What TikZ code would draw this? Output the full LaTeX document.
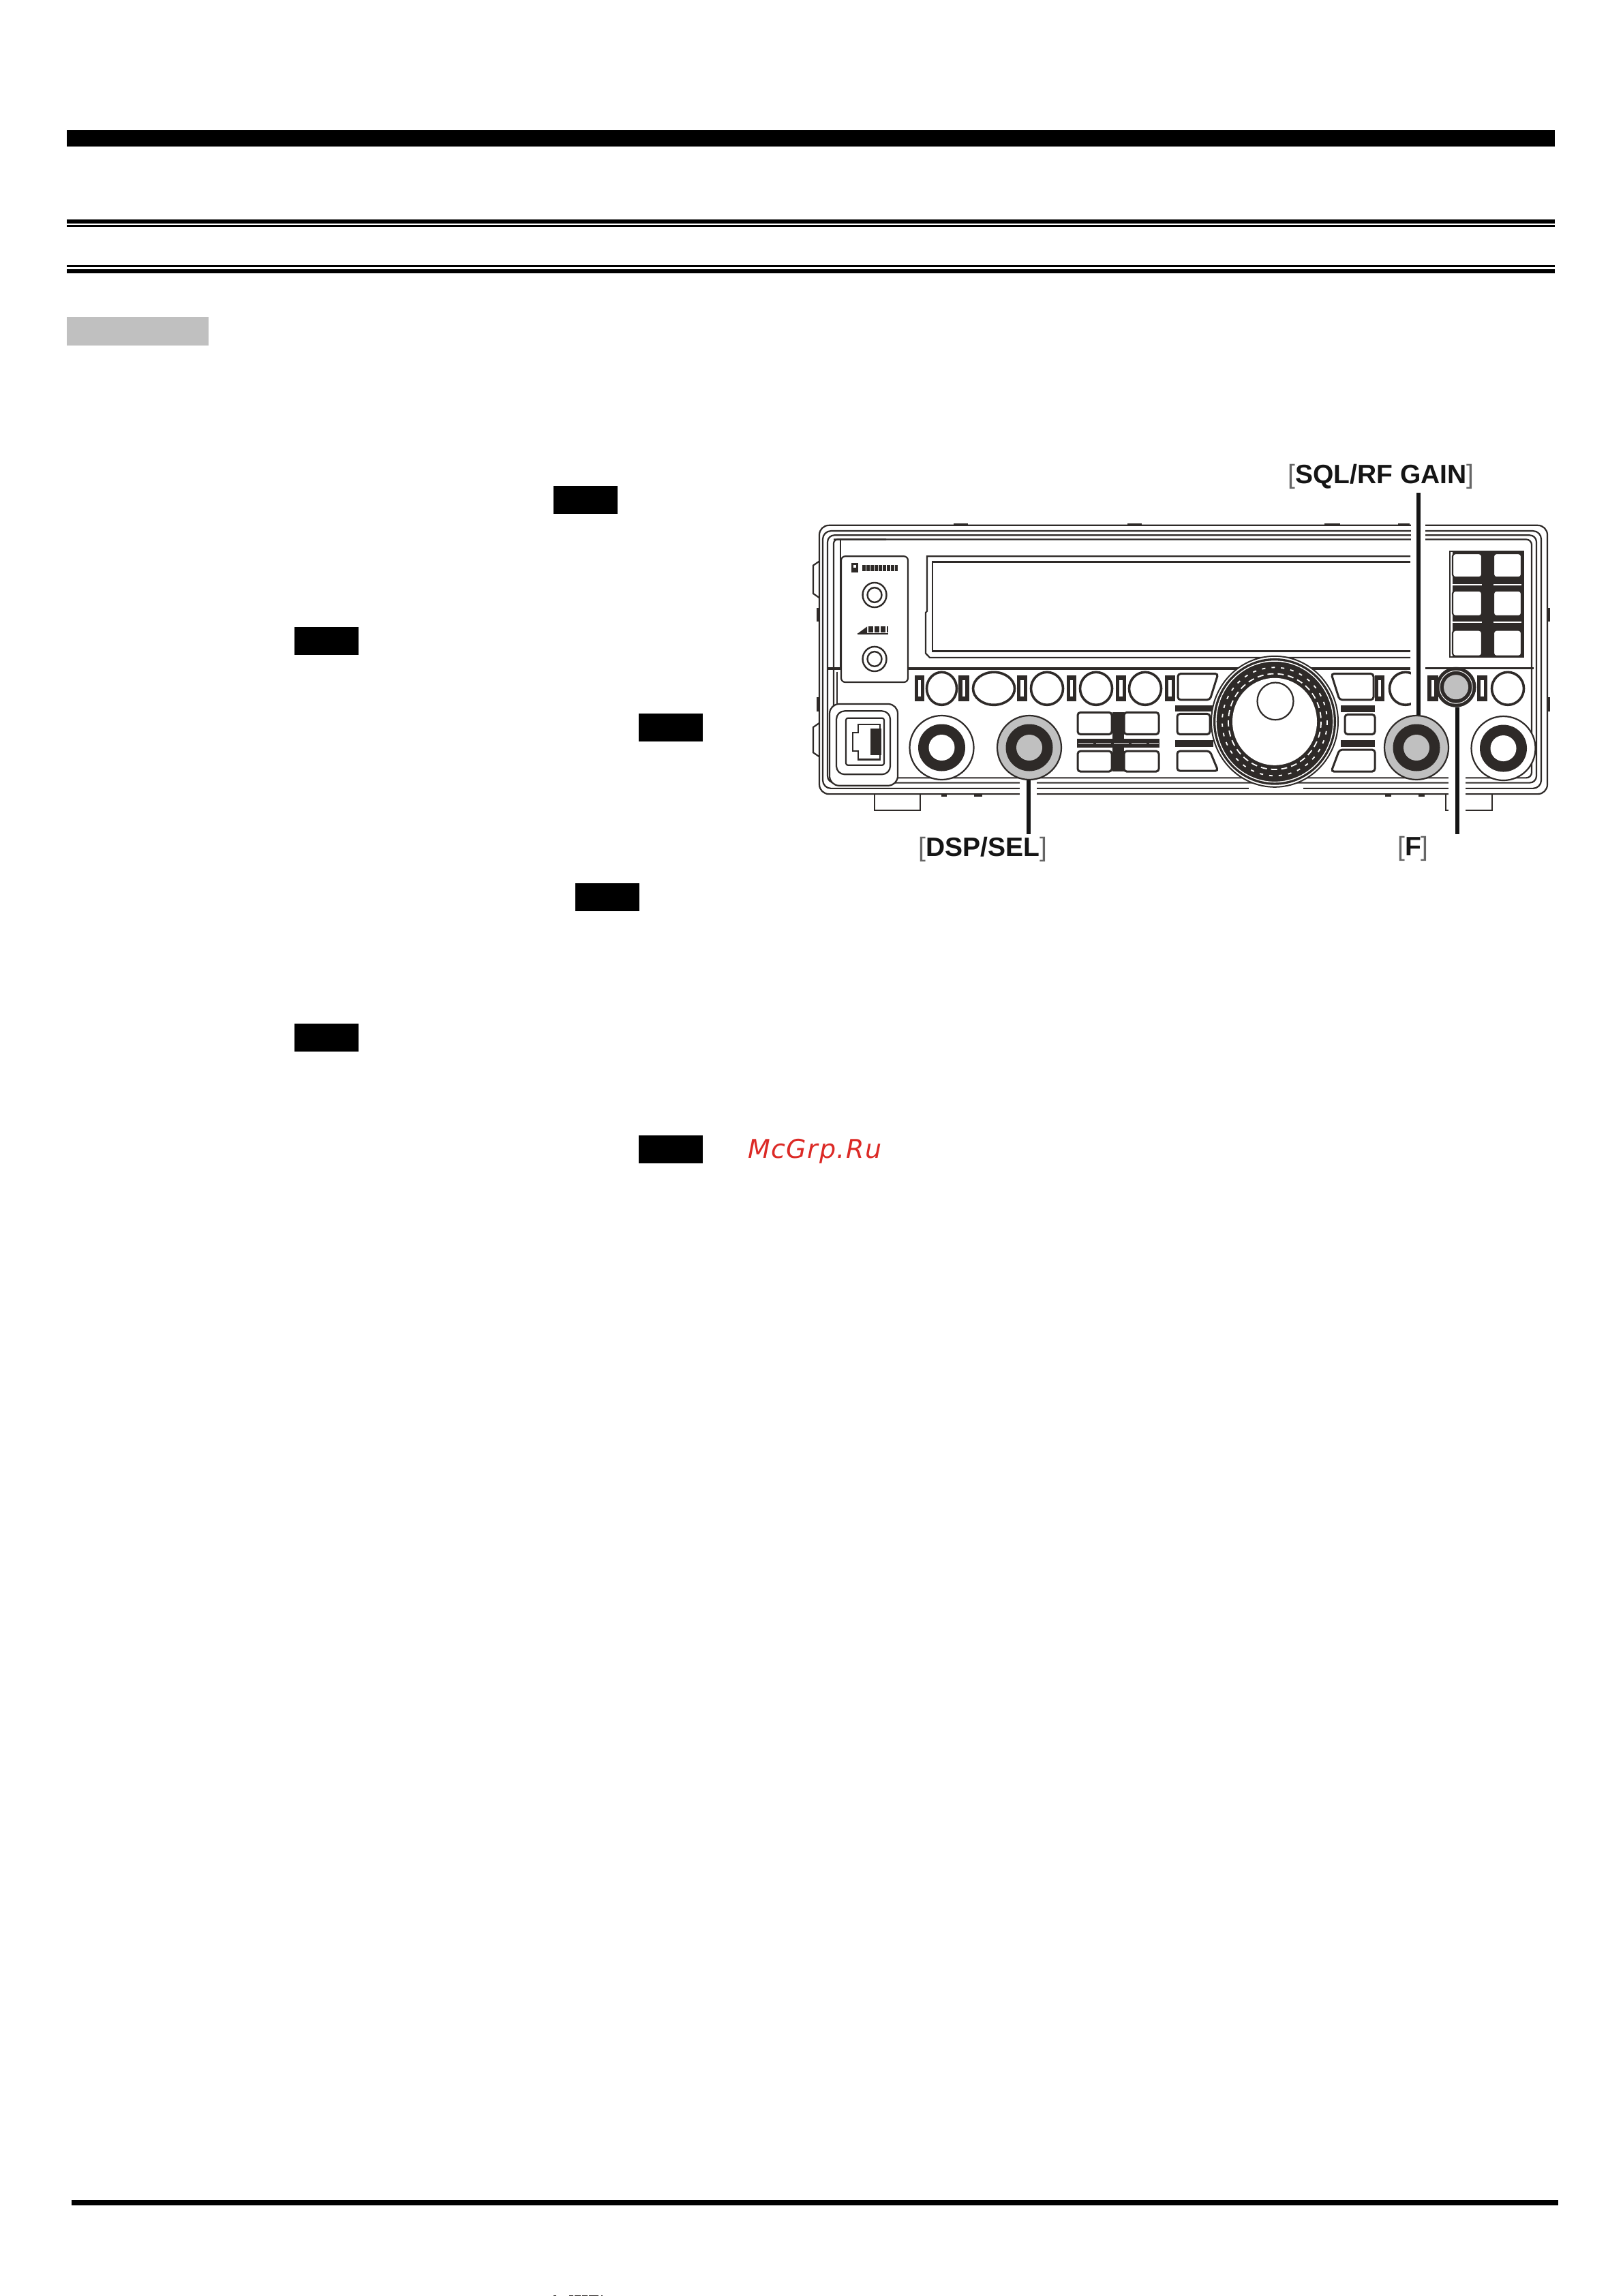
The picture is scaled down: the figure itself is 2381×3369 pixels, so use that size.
\documentclass[tikz,border=0pt]{standalone}
\usepackage{fontspec}
\setmainfont{Liberation Sans}
\newfontfamily\wmfont{DejaVu Sans}
\usetikzlibrary{shapes.geometric}
\definecolor{rdark}{HTML}{2E2A28}
\definecolor{rgray}{HTML}{C0C0C0}
\definecolor{wmred}{HTML}{DC2A26}
\definecolor{lblk}{HTML}{151515}
\definecolor{brk}{HTML}{666666}
\newcommand{\lbl}[1]{{\fontsize{39}{43}\selectfont\textcolor{brk}{[}\textbf{#1}\textcolor{brk}{]}}}
\newcommand{\sbar}[2]{%
  \fill[rdark] (#1,981) rectangle ++(#2,37);
  \fill[white] ({#1+0.35*#2},988) rectangle ++({0.3*#2},23);
}
\newcommand{\ovbtn}[4]{\node[ovalbtn,minimum width=#3pt,minimum height=#4pt] at (#1,#2) {};}
\tikzset{
  x=1pt,y=-1pt,
  rline/.style={draw=rdark,line width=2.2pt},
  band/.style={fill=black},
  tag/.style={fill=black},
  ovalbtn/.style={ellipse,draw=rdark,line width=3.6pt,fill=white,inner sep=0pt},
  squarebtn/.style={draw=rdark,line width=3pt,fill=white,rounded corners=4pt},
  halo/.style={draw=white,line cap=butt},
  callout/.style={draw=lblk,line width=6pt,line cap=butt},
  knobouter/.style={circle,draw=rdark,line width=2.2pt,inner sep=0pt,minimum size=94pt},
  knobdark/.style={circle,fill=rdark,inner sep=0pt,minimum size=69pt},
  lbltxt/.style={inner sep=0pt,text=lblk},
}
\begin{document}
\begin{tikzpicture}
\useasboundingbox (0,0) rectangle (2381,3369);
\fill[white] (0,0) rectangle (2381,3369);
% page rules
\fill[band] (98,191) rectangle (2281,215);
\fill[band] (98,322) rectangle (2281,328);
\fill[band] (98,330) rectangle (2281,333);
\fill[band] (98,389) rectangle (2281,392);
\fill[band] (98,395) rectangle (2281,401);
\fill[band] (105,3228) rectangle (2286,3236);
\fill[fill=rgray] (98,465) rectangle (306,507);
% black tags
\foreach \tx/\ty in {812/713,432/920,937/1047,844/1296,432/1502,937/1666}
  \fill[tag] (\tx,\ty) rectangle ++(94,41);
\begin{scope}[y=-1.0322pt,yshift=21.9pt]
% side and top bumps
\draw[rline] (1202,819) -- (1193,825) -- (1193,865) -- (1202,871);
\draw[rline] (1202,1049) -- (1193,1055) -- (1193,1091) -- (1202,1097);
\foreach \ya/\yb in {885/905,1012/1033} {
  \fill[rdark] (1198,\ya) rectangle (1202,\yb);
  \fill[rdark] (2270,\ya) rectangle (2274,\yb);
}
\foreach \xa/\xb in {1399/1420,1654/1675,1943/1966,2051/2068}
  \fill[rdark] (\xa,765) rectangle (\xb,769);
\foreach \xa/\xb in {1381/1389,1429/1441,2032/2041,2081/2090}
  \fill[rdark] (\xa,1150) rectangle (\xb,1154);
% feet
\draw[rline] (1283,1150) -- (1283,1173) -- (1350,1173) -- (1350,1150);
\draw[rline] (2121,1150) -- (2121,1173) -- (2189,1173) -- (2189,1150);
% body nested outline
\draw[rline,rounded corners=14pt,fill=white] (1202,768) rectangle (2270,1150);
\draw[rline,rounded corners=12pt] (1207,776) rectangle (2261,1142);
\draw[rline,rounded corners=10pt] (1214,782) rectangle (2254,1134);
\draw[rline,rounded corners=8pt] (1223,788) -- (2247,788) -- (2247,1127) -- (1223,1127);
\draw[rline,rounded corners=6pt] (1223,1127) -- (1223,788) -- (1300,788);
\draw[rline] (1233,788) -- (1233,972);
\draw[rline] (1228,976) -- (1228,1030);
% band below display
\fill[rdark] (1215,970) rectangle (2069,974);
\fill[rdark] (2090,970) rectangle (2250,972.5);
% display
\draw[rline] (2069,812) -- (1360,812) -- (1360,890) -- (1358,892) -- (1358,950) -- (1364,956) -- (2069,956);
\draw[rline] (2069,820) -- (1368,820) -- (1368,947) -- (2069,947);
% logo panel
\draw[rline,fill=white,rounded corners=6pt] (1234,812) rectangle (1332,991);
\fill[rdark] (1249,821) rectangle (1259,835);
\fill[white] (1252,824) rectangle (1256,828);
\draw[rdark,line width=9pt,dash pattern=on 5pt off 1pt] (1265,828.5) -- (1317,828.5);
\fill[rdark] (1258,922) -- (1272,912) -- (1272,922) -- cycle;
\draw[rdark,line width=9pt,dash pattern=on 7pt off 2pt] (1274,916) -- (1303,916);
\fill[rdark] (1258,921) rectangle (1303,923);
\foreach \jy in {867,958} {
  \draw[rdark,line width=2.4pt,fill=white] (1283,\jy) circle (17.5);
  \draw[rdark,line width=2.4pt] (1283,\jy) circle (10.5);
}
% row of small bars and buttons
\sbar{1342}{14}\sbar{1406}{16}\sbar{1492}{15}\sbar{1565}{14}\sbar{1637}{15}\sbar{1709}{15}\sbar{2017}{14}\sbar{2094}{16}\sbar{2167}{15}
\ovbtn{1381.5}{1000}{44}{48}
\ovbtn{1458}{1000}{61}{48}
\ovbtn{1536}{1000}{47}{48}
\ovbtn{1608}{1000}{47}{48}
\ovbtn{1680}{1000}{47}{48}
\ovbtn{2062}{1000}{47}{48}
\ovbtn{2212}{1000}{47}{48}
% side buttons beside the dial
\draw[squarebtn] (1728,979) -- (1787,979) -- (1775,1016) -- (1728,1016) -- cycle;
\draw[squarebtn] (1953,979) -- (2015,979) -- (2015,1016) -- (1965,1016) -- cycle;
\fill[rdark] (1724,1024) rectangle (1785,1033);
\fill[rdark] (1967,1024) rectangle (2017,1034);
\draw[squarebtn] (1727,1036) rectangle (1775,1065);
\draw[squarebtn] (1973,1037) rectangle (2017,1065);
\fill[rdark] (1724,1073) rectangle (1780,1083);
\fill[rdark] (1967,1073) rectangle (2017,1083);
\draw[squarebtn] (1727,1089) -- (1775,1089) -- (1787,1117) -- (1727,1117) -- cycle;
\draw[squarebtn] (1965,1087) -- (2017,1087) -- (2017,1118) -- (1953,1118) -- cycle;
% four button block
\fill[rdark] (1632,1034) rectangle (1649,1118);
\fill[rdark] (1580,1071) rectangle (1701,1084);
\draw[white,line width=1.6pt,dash pattern=on 22pt off 4pt] (1582,1077.5) -- (1700,1077.5);
\draw[squarebtn] (1581,1034) rectangle (1631,1065);
\draw[squarebtn] (1649,1034) rectangle (1700,1065);
\draw[squarebtn] (1581,1089) rectangle (1631,1118);
\draw[squarebtn] (1649,1089) rectangle (1700,1118);
% six button block
\fill[rdark] (2126,804) rectangle (2236,956);
\fill[white] (2128,806) rectangle (2131,954);
\foreach \ya/\yb in {808/842,861/897,917/954} {
  \draw[rline,fill=white,rounded corners=4pt] (2131,\ya) rectangle (2174,\yb);
  \draw[rline,fill=white,rounded corners=4pt] (2191,\ya) rectangle (2232,\yb);
}
\foreach \sy in {852,906} {
  \draw[white,line width=2pt] (2131,\sy) -- (2174,\sy);
  \draw[white,line width=2pt] (2191,\sy) -- (2232,\sy);
}
% network jack
\draw[rline,fill=white,rounded corners=14pt] (1217,1022) rectangle (1317,1138);
\draw[rline,rounded corners=12pt] (1227,1032) rectangle (1306,1122);
\draw[rline,rounded corners=3pt] (1241,1042) rectangle (1297,1109);
\draw[rline] (1251,1063) -- (1259,1063) -- (1259,1051) -- (1291,1051) -- (1291,1101) -- (1259,1101) -- (1259,1089) -- (1251,1089) -- cycle;
\fill[rdark] (1277,1057) rectangle (1293,1095);
% gap in the inner lines under the dial
\fill[white] (1832,1136) rectangle (1912,1146);
% main dial
\draw[rdark,line width=2pt,fill=white] (1870,1047) circle (93);
\fill[rdark] (1870,1047) circle (90);
\draw[white,line width=1.4pt] (1870,1047) circle (86);
\draw[white,line width=1.8pt,dash pattern=on 5pt off 9pt] (1870,1047) circle (77);
\draw[white,line width=1.8pt,dash pattern=on 9pt off 6pt] (1870,1047) circle (68);
\fill[white] (1870,1047) circle (62);
\draw[rdark,line width=2.2pt] (1871,1018) circle (26.5);
% halos cutting the lines behind the callouts
\draw[halo,line width=21pt] (2080,758) -- (2080,1025);
\draw[halo,line width=25pt] (1508,1130) -- (1508,1158);
\draw[halo,line width=25pt] (2137.5,1122) -- (2137.5,1180);
% knobs
\node[knobouter,fill=white] (afknob) at (1381.5,1084) {};
\node[knobdark] (afring) at (1381.5,1084) {};
\node[circle,fill=white,inner sep=0pt,minimum size=38pt] (afcap) at (1381.5,1084) {};
\node[knobouter,fill=rgray] (dspknob) at (1510,1084) {};
\node[knobdark] (dspring) at (1510,1084) {};
\node[circle,fill=rgray,inner sep=0pt,minimum size=38pt] (dspcap) at (1510,1084) {};
\node[knobouter,fill=rgray] (sqlknob) at (2078,1084) {};
\node[knobdark] (sqlring) at (2078,1084) {};
\node[circle,fill=rgray,inner sep=0pt,minimum size=38pt] (sqlcap) at (2078,1084) {};
\node[knobouter,fill=white] (rightknob) at (2205.5,1085) {};
\node[knobdark] (rightring) at (2205.5,1085) {};
\node[circle,fill=white,inner sep=0pt,minimum size=38pt] (rightcap) at (2205.5,1085) {};
% F button
\node[circle,draw=rdark,line width=3pt,fill=rdark,inner sep=0pt,minimum size=56pt] (fknob) at (2136,998) {};
\node[circle,draw=white,line width=1pt,fill=rdark,inner sep=0pt,minimum size=48pt] (fring) at (2136,998) {};
\node[circle,fill=rgray,inner sep=0pt,minimum size=36pt] (fcap) at (2136,998) {};
% labels
\node[lbltxt,anchor=center] (dsplabel) at (1442,1229) {\lbl{DSP/SEL}};
\node[lbltxt,anchor=center] (sqllabel) at (2026,699) {\lbl{SQL/RF GAIN}};
\node[lbltxt,anchor=center] (flabel) at (2073,1227.5) {\lbl{F}};
% callouts
\coordinate (dsptip) at (1509,1207);
\coordinate (sqltip) at (2080.5,722);
\coordinate (ftip) at (2137.5,1207);
\draw[callout] (dsptip) -- (dsptip |- dspknob.south);
\draw[callout] (sqltip) -- (sqltip |- sqlknob.north);
\draw[callout] (ftip) -- (ftip |- fknob.south);
\end{scope}
% watermark
\node[inner sep=0pt,anchor=base west,text=wmred] (watermark) at (1097,1699) {\fontsize{38}{42}\selectfont\wmfont\addfontfeature{LetterSpace=4}\itshape McGrp.Ru};
% scan remnants on the bottom edge
\foreach \xa/\xb in {812/816,835/841,843/852,854/862,864/876,872/878,882/884}
  \fill[rdark] (\xa,3367.5) rectangle (\xb,3369);
\end{tikzpicture}
\end{document}
